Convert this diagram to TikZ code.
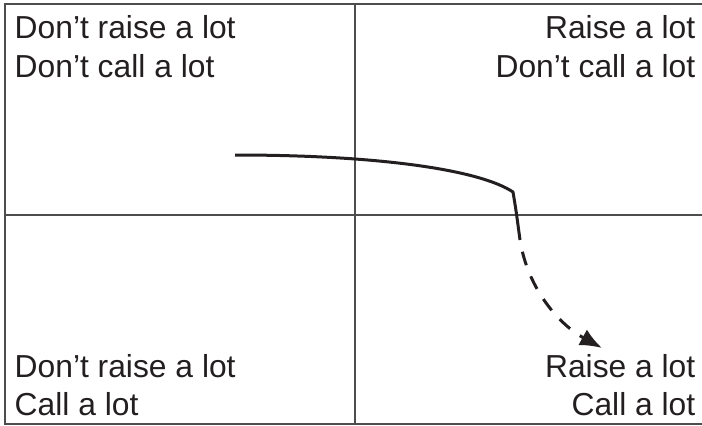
\documentclass[tikz,border=0pt]{standalone}
\usepackage{fontspec}
\setmainfont{Liberation Sans}
\usetikzlibrary{arrows.meta}
\definecolor{ink}{HTML}{231F20}
\definecolor{rule}{HTML}{4D4D4D}
\begin{document}
\begin{tikzpicture}[x=1pt,y=-1pt,
  lbl/.style={inner sep=0pt,text=ink,font=\fontsize{31.8}{38}\selectfont},
  lblL/.style={lbl,anchor=base west},
  lblR/.style={lbl,anchor=base east},
  gridline/.style={draw=rule,line width=1.8pt},
  pathline/.style={draw=ink,line width=3pt},
  dashline/.style={pathline,dash pattern=on 14pt off 12pt,dash phase=14pt}]
\useasboundingbox (0,0) rectangle (702,426);
% frame and quadrant lines
\draw[gridline] (702,4) -- (5,4) -- (5,424) -- (702,424);
\draw[gridline] (5,215) -- (702,215);
\draw[gridline] (355,4) -- (355,424);
% labels
\node[lblL] (tl1) at (14.5,38) {Don’t raise a lot};
\node[lblL] (tl2) at (14.5,77) {Don’t call a lot};
\node[lblR] (tr1) at (695.5,38) {Raise a lot};
\node[lblR] (tr2) at (695.5,77) {Don’t call a lot};
\node[lblL] (bl1) at (14.5,377) {Don’t raise a lot};
\node[lblL] (bl2) at (14.5,415) {Call a lot};
\node[lblR] (br1) at (695.5,377) {Raise a lot};
\node[lblR] (br2) at (695.5,415) {Call a lot};
% trajectory
\coordinate (s) at (235,155);
\coordinate (k) at (513,192);
\coordinate (m) at (520,240);
\coordinate (e) at (602,348);
\draw[pathline,line join=round] (s) .. controls (380,155) and (480,170) .. (k)
  .. controls (516,210) .. (m);
\draw[dashline,-{Latex[length=22pt,width=18pt]}] (m) .. controls (528,290) and (560,325) .. (e);
\end{tikzpicture}
\end{document}
